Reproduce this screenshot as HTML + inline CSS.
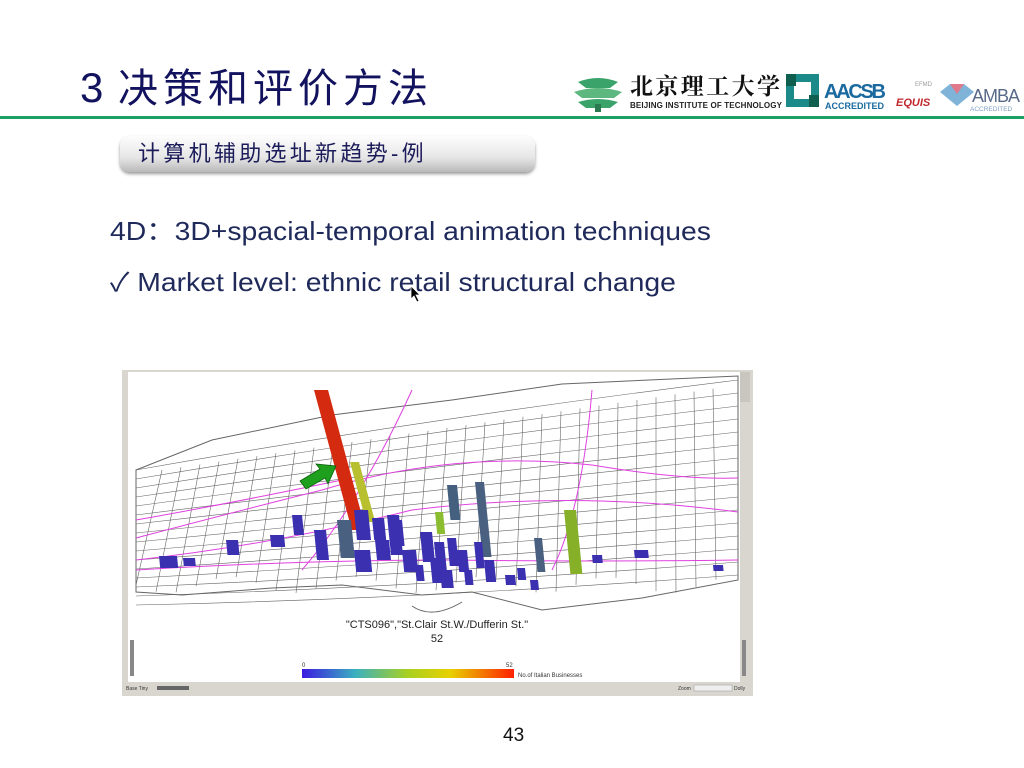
<!DOCTYPE html>
<html><head><meta charset="utf-8">
<style>
html,body{margin:0;padding:0;background:#fff;}
body{width:1024px;height:768px;position:relative;overflow:hidden;font-family:"Liberation Sans","Noto Sans CJK SC",sans-serif;}
.abs{position:absolute;}
#title{left:80px;top:58px;font-size:42px;color:#12125e;white-space:nowrap;line-height:60px;}
#title .cj{position:absolute;left:38px;top:1px;letter-spacing:5px;font-size:40px;}
#rule{left:0;top:116px;width:1024px;height:3px;background:#1f9f63;}
#sub{left:120px;top:136px;width:415px;height:36px;border-radius:10px;background:linear-gradient(#fdfdfd,#e6e6e6 60%,#b9b9b9);box-shadow:0 2px 3px #999;}
#subt{left:138px;top:139px;font-size:22px;color:#1c1c5a;letter-spacing:3.3px;line-height:30px;white-space:nowrap;}
.line{font-size:26px;color:#1f2a5a;white-space:nowrap;line-height:30px;transform-origin:0 50%;transform:scaleX(1.09);}
#pg{left:503px;top:725px;font-size:19px;color:#111;}
</style></head><body>
<div id="title" class="abs">3<span class="cj">决策和评价方法</span></div>
<div id="rule" class="abs"></div>
<svg class="abs" style="left:570px;top:64px" width="454" height="50">
 <g>
  <path d="M8 18 Q28 10 48 18 L40 24 L16 24Z" fill="#3aa36a"/>
  <path d="M4 28 Q28 20 52 28 L44 34 L12 34Z" fill="#5cb87e"/>
  <path d="M8 38 Q28 32 48 38 L40 44 L16 44Z" fill="#3aa36a"/>
  <rect x="25" y="40" width="6" height="8" fill="#2b7a4f"/>
 </g>
 <text x="60" y="30" font-family="'Noto Serif CJK SC',serif" font-size="23" font-weight="bold" fill="#111" textLength="150">北京理工大学</text>
 <text x="60" y="44" font-size="8" font-weight="bold" fill="#222" textLength="152">BEIJING INSTITUTE OF TECHNOLOGY</text>
 <g>
  <rect x="216" y="10" width="33" height="33" fill="#1d8a8a"/>
  <rect x="224" y="18" width="17" height="17" fill="#fff"/>
  <rect x="216" y="10" width="10" height="12" fill="#0f5e4e"/>
  <rect x="239" y="31" width="10" height="12" fill="#0f5e4e"/>
  <text x="254" y="34" font-size="20" font-weight="bold" fill="#1a6aa0" textLength="62">AACSB</text>
  <text x="255" y="45" font-size="9" font-weight="bold" fill="#1a6aa0">ACCREDITED</text>
 </g>
 <text x="326" y="42" font-size="11" font-style="italic" font-weight="bold" fill="#c0282e">EQUIS</text>
 <text x="345" y="22" font-size="6" fill="#999">EFMD</text>
 <path d="M370 28 L380 20 L394 20 L404 28 L387 42Z" fill="#7fb4d8"/>
 <path d="M380 20 L387 30 L394 20Z" fill="#e07a8a"/>
 <text x="402" y="38" font-size="18" fill="#5a6a8a" textLength="48">AMBA</text>
 <text x="400" y="47" font-size="6.5" fill="#7fa0c0">ACCREDITED</text>
</svg>
<div id="sub" class="abs"></div>
<div id="subt" class="abs">计算机辅助选址新趋势-例</div>
<div class="abs line" style="left:110px;top:216px">4D：3D+spacial-temporal animation techniques</div>
<div class="abs line" style="left:110px;top:267px">✓ Market level: ethnic retail structural change</div>
<svg class="abs" style="left:410px;top:285px" width="12" height="18"><path d="M1 1 L1 14 L4 11 L7 17 L9 16 L6 10 L10 10Z" fill="#000" stroke="#fff" stroke-width="0.8"/></svg>

<svg id="map" class="abs" style="left:122px;top:370px" width="631" height="326">
 <rect x="0" y="0" width="631" height="326" fill="#d8d6cf"/>
 <rect x="6" y="2" width="612" height="310" fill="#fff"/>
 <g id="streets" stroke="#666" stroke-width="0.6" fill="none"></g>
 <g id="hwys" stroke="#e040e0" stroke-width="1" fill="none"></g>
 <g id="bars"></g>
 <g>
  <path d="M178 111 L198 99 L194 94 L214 96 L206 114 L203 108 L184 119Z" fill="#1ea01e" stroke="#0a600a" stroke-width="0.8"/>
 </g>
 <text x="315" y="258" font-size="11" text-anchor="middle" fill="#222">"CTS096","St.Clair St.W./Dufferin St."</text>
 <text x="315" y="272" font-size="11" text-anchor="middle" fill="#222">52</text>
 <defs><linearGradient id="rb" x1="0" x2="1"><stop offset="0" stop-color="#3a1ae0"/><stop offset="0.25" stop-color="#3ab0c0"/><stop offset="0.5" stop-color="#a8d020"/><stop offset="0.7" stop-color="#e8d000"/><stop offset="1" stop-color="#ff2000"/></linearGradient></defs>
 <rect x="180" y="299" width="212" height="9" fill="url(#rb)"/>
 <text x="180" y="297" font-size="6" fill="#333">0</text>
 <text x="384" y="297" font-size="6" fill="#333">52</text>
 <text x="396" y="307" font-size="6" fill="#333">No.of Italian Businesses</text>
 <rect x="618" y="2" width="10" height="30" fill="#c8c6bf"/>
 <rect x="8" y="270" width="4" height="36" fill="#888"/>
 <rect x="620" y="270" width="4" height="36" fill="#888"/>
 <text x="4" y="320" font-size="5" fill="#333">Base  Tiny</text>
 <rect x="35" y="316" width="32" height="4" fill="#666"/>
 <text x="556" y="320" font-size="5" fill="#333">Zoom</text>
 <rect x="572" y="315" width="38" height="6" fill="#eee" stroke="#999" stroke-width="0.5"/>
 <text x="612" y="320" font-size="5" fill="#333">Dolly</text>
</svg>
<div id="pg" class="abs">43</div>
<script>
const S=document.getElementById('streets');
function ln(g,d,sw){const p=document.createElementNS('http://www.w3.org/2000/svg','path');p.setAttribute('d',d);if(sw)p.setAttribute('stroke-width',sw);g.appendChild(p);}
for(let i=0;i<16;i++){
  const yl=100+i*9, yr=10+i*13;
  ln(S,`M14 ${yl} Q300 ${(yl+yr)/2-6+i} 616 ${yr}`);
}
for(let i=0;i<30;i++){
  const xb=14+i*20, xt=40+i*19;
  const yt=Math.max(10,100-i*2.8);
  ln(S,`M${xt} ${yt} L${xb} ${215+Math.sin(i)*8}`);
}
ln(S,'M14 100 L90 70 L210 45 L330 30 L440 14 L616 6 L616 210 L520 228 L420 240 L350 222 L300 225 L220 215 L150 218 L60 225 L14 222Z','1');
ln(S,'M290 236 Q310 250 340 232','1');
const H=document.getElementById('hwys');
ln(H,'M14 168 Q120 140 200 120 Q330 80 470 95 Q560 110 616 108');
ln(H,'M14 190 Q150 175 290 140 Q450 120 616 142');
ln(H,'M14 200 Q180 190 330 190 Q480 192 616 190');
ln(H,'M180 200 Q240 130 290 20');
ln(H,'M430 200 Q460 140 470 20');
ln(H,'M14 150 Q100 135 220 110');
const barX=[192,228,313,442,325,353,412,215,232,250,265,270,298,312,325,335,352,37,61,104,148,170,192,232,253,280,293,308,318,342,362,383,395,408,470,512,591];
const barTop=[20,92,142,140,115,112,168,150,140,148,145,150,162,172,168,180,172,186,188,170,165,145,160,180,170,180,195,188,200,200,190,205,198,210,185,180,195];
const barH=[140,60,22,64,35,75,34,38,30,22,40,26,30,36,28,22,26,12,8,15,12,20,30,22,20,22,16,25,18,15,22,10,12,10,8,8,6];
const barW=[14,9,8,12,10,9,8,14,14,12,12,10,12,10,9,10,8,18,12,12,14,10,12,16,14,14,8,10,12,8,10,10,8,8,10,14,10];
const barC=['#d42a10','#b8c030','#8cbc30','#86b028','#45607f','#4a6080','#4a6080','#4a6080','#3a30b0','#3a30b0','#3a30b0','#3a30b0','#3a30b0','#3a30b0','#3a30b0','#3a30b0','#3a30b0','#3a30b0','#3a30b0','#3a30b0','#3a30b0','#3a30b0','#3a30b0','#3a30b0','#3a30b0','#3a30b0','#3a30b0','#3a30b0','#3a30b0','#3a30b0','#3a30b0','#3a30b0','#3a30b0','#3a30b0','#3a30b0','#3a30b0','#3a30b0'];
const B=document.getElementById('bars');
for(let i=0;i<barX.length;i++){
  const x=barX[i],t=barTop[i],w=barW[i],h=barH[i];
  const lean=i<2?h*0.27:h*0.1;
  const p=document.createElementNS('http://www.w3.org/2000/svg','polygon');
  p.setAttribute('points',`${x},${t} ${x+w},${t} ${x+w+lean},${t+h} ${x+lean},${t+h}`);
  p.setAttribute('fill',barC[i]);
  
  
  B.appendChild(p);
}
</script>
</body></html>
